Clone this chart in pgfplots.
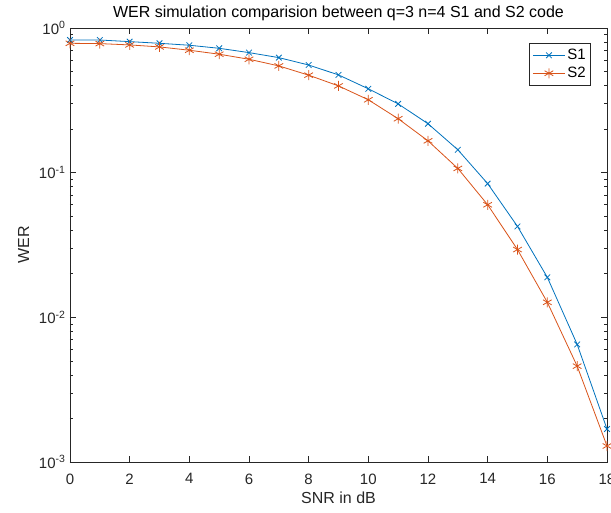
\documentclass[border=0pt]{standalone}
\usepackage{pgfplots}
\pgfplotsset{compat=1.18}
\usepackage{fontspec}
\setmainfont{Liberation Sans}
\definecolor{mblue}{rgb}{0,0.447,0.741}
\definecolor{morange}{rgb}{0.85,0.325,0.098}
\definecolor{axgray}{rgb}{0.15,0.15,0.15}
\begin{document}
\begin{tikzpicture}
\begin{axis}[
  at={(0pt,0pt)}, anchor=south west,
  scale only axis, width=537pt, height=434pt,
  ymode=log, xmin=0, xmax=18, ymin=1e-3, ymax=1,
  xtick={0,2,...,18},
  ytick={1e-3,1e-2,1e-1,1},
  yticklabels={10\textsuperscript{-3},10\textsuperscript{-2},10\textsuperscript{-1},10\textsuperscript{0}},
  tick align=inside,
  major tick length=6pt, minor tick length=3.5pt,
  axis line style={axgray, line width=0.6pt},
  every tick/.style={axgray, line width=0.6pt},
  tick label style={font=\fontsize{15}{18}\selectfont, text=axgray},
  xticklabel style={yshift=-8pt},
  yticklabel style={xshift=-1pt},
  /pgf/number format/assume math mode=true,
  xlabel={SNR in dB}, ylabel={WER},
  label style={font=\fontsize{16}{19}\selectfont, text=axgray},
  xlabel style={yshift=-1pt},
  ylabel style={yshift=3pt},
  title={WER simulation comparision between q=3 n=4 S1 and S2 code},
  title style={font=\fontsize{16}{19}\selectfont, text=black, yshift=-2pt},
  legend style={at={(1,1)}, anchor=north east, xshift=-16pt, yshift=-15pt,
    draw=axgray, line width=0.6pt, font=\fontsize{15}{18}\selectfont,
    cells={anchor=west}, inner xsep=3pt, inner ysep=4pt, row sep=2pt},
  legend image code/.code={\draw[mark repeat=2,mark phase=2] plot coordinates {(0pt,0pt)(16pt,0pt)(32pt,0pt)};},
]
\addplot[color=mblue, line width=0.8pt, mark=x, mark size=4pt, mark options={line width=0.8pt}] coordinates {
(0,0.826)(1,0.826)(2,0.805)(3,0.784)(4,0.760)(5,0.724)(6,0.676)(7,0.624)(8,0.555)
(9,0.474)(10,0.38)(11,0.299)(12,0.218)(13,0.144)(14,0.084)(15,0.0425)(16,0.0189)(17,0.0065)(18,0.00169)};
\addlegendentry{S1}
\addplot[color=morange, line width=0.8pt, mark=asterisk, mark size=5pt, mark options={line width=0.8pt}] coordinates {
(0,0.784)(1,0.780)(2,0.764)(3,0.740)(4,0.702)(5,0.659)(6,0.608)(7,0.547)(8,0.472)
(9,0.398)(10,0.319)(11,0.236)(12,0.166)(13,0.107)(14,0.060)(15,0.0294)(16,0.0127)(17,0.0046)(18,0.00129)};
\addlegendentry{S2}
\end{axis}
\pgfresetboundingbox
\useasboundingbox (-70pt,-51pt) rectangle (541pt,462pt);
\end{tikzpicture}
\end{document}
